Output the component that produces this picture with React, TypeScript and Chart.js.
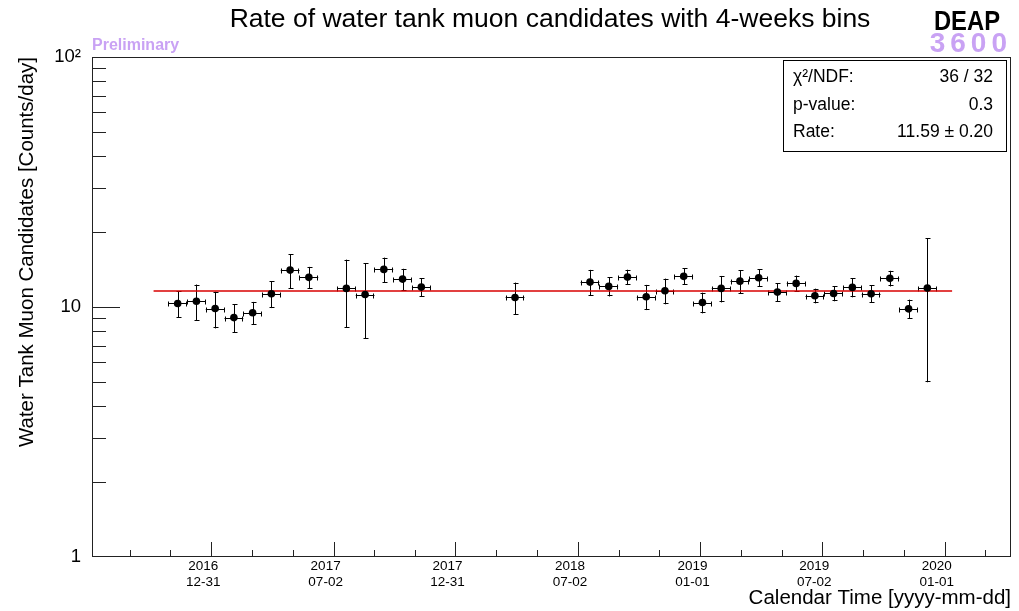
import React, { useEffect, useRef } from "react";
import { Chart, registerables } from "chart.js";

Chart.register(...registerables);

// ---------- data ----------
const REF_DATE = "2016-12-31";
const binCenters = [
  "2016-11-11", "2016-12-09", "2017-01-06", "2017-02-03", "2017-03-03", "2017-03-31", "2017-04-28", "2017-05-26",
  "2017-07-21", "2017-08-18", "2017-09-15", "2017-10-13", "2017-11-10",
  "2018-03-30",
  "2018-07-20", "2018-08-17", "2018-09-14", "2018-10-12", "2018-11-09", "2018-12-07", "2019-01-04", "2019-02-01",
  "2019-03-01", "2019-03-29", "2019-04-26", "2019-05-24", "2019-06-21", "2019-07-19", "2019-08-16", "2019-09-13",
  "2019-10-11", "2019-11-08", "2019-12-06",
];
const rates = [
  10.33, 10.55, 9.86, 9.07, 9.48, 11.3, 14.05, 13.14,
  11.87, 11.22, 14.14, 12.93, 12.01,
  10.92,
  12.58, 12.09, 13.17, 10.99, 11.62, 13.26, 10.42, 11.87,
  12.69, 13.1, 11.47, 12.43, 11.09, 11.33, 11.98, 11.3,
  13.02, 9.83, 11.9,
];
const rateErrors = [
  1.26, 1.75, 1.65, 1.17, 1.0, 1.4, 2.2, 1.33,
  3.6, 3.76, 1.62, 1.29, 1.0,
  1.6,
  1.5, 1.07, 0.93, 1.27, 1.37, 1.0, 0.99, 1.44,
  1.37, 1.05, 0.96, 0.93, 0.75, 0.79, 1.05, 0.9,
  0.94, 0.87, 6.9,
];
const binWidthDays = 28;
const fitRate = 11.59;
const fitRange = ["2016-10-06", "2020-01-12"];
const xRange = ["2016-07-06", "2020-04-09"];
const xTickDates = ["2016-12-31", "2017-07-02", "2017-12-31", "2018-07-02", "2019-01-01", "2019-07-02", "2020-01-01"];
const xTickLabels = [
  ["2016", "12-31"], ["2017", "07-02"], ["2017", "12-31"], ["2018", "07-02"],
  ["2019", "01-01"], ["2019", "07-02"], ["2020", "01-01"],
];
const yTickValues = [1, 10, 100];
const yTickLabels = ["1", "10", "10²"];
const yMinorValues = [2, 3, 4, 5, 6, 7, 8, 9, 20, 30, 40, 50, 60, 70, 80, 90];
const statsRows = [
  ["χ²/NDF:", "36 / 32"],
  ["p-value:", "0.3"],
  ["Rate:", "11.59 ± 0.20"],
];
const titleText = "Rate of water tank muon candidates with 4-weeks bins";
const xTitle = "Calendar Time [yyyy-mm-dd]";
const yTitle = "Water Tank Muon Candidates [Counts/day]";
const logoTop = "DEAP";
const logoBottom = "3600";
const prelimText = "Preliminary";

// ---------- helpers ----------
const MS_DAY = 86400000;
const dayOf = (s: string) => (Date.parse(s + "T00:00:00Z") - Date.parse(REF_DATE + "T00:00:00Z")) / MS_DAY;

const SANS = '"Liberation Sans", Arial, Helvetica, sans-serif';
const LAVENDER = "#c9a2f4";

const W = 1019;
const H = 611;

function condensedText(ctx: any, text: string, x: number, y: number, sx: number, align: string) {
  ctx.save();
  ctx.translate(x, y);
  ctx.scale(sx, 1);
  ctx.textAlign = align;
  ctx.fillText(text, 0, 0);
  ctx.restore();
}

const decorPlugin = {
  id: "rootDecor",
  beforeDatasetsDraw(chart: any) {
    const { ctx, scales } = chart;
    const xs = scales.x;
    const ys = scales.y;
    ctx.save();
    ctx.strokeStyle = "#000";
    ctx.lineWidth = 1;
    const cap = 2;
    binCenters.forEach((d, i) => {
      const dx = dayOf(d);
      const px = Math.round(xs.getPixelForValue(dx)) + 0.5;
      const py = Math.round(ys.getPixelForValue(rates[i])) + 0.5;
      const yt = ys.getPixelForValue(rates[i] + rateErrors[i]);
      const yb = ys.getPixelForValue(rates[i] - rateErrors[i]);
      const xl = xs.getPixelForValue(dx - binWidthDays / 2);
      const xr = xs.getPixelForValue(dx + binWidthDays / 2);
      ctx.beginPath();
      ctx.moveTo(px, yt);
      ctx.lineTo(px, yb);
      ctx.moveTo(px - cap, Math.round(yt) + 0.5);
      ctx.lineTo(px + cap + 1, Math.round(yt) + 0.5);
      ctx.moveTo(px - cap, Math.round(yb) - 0.5);
      ctx.lineTo(px + cap + 1, Math.round(yb) - 0.5);
      ctx.moveTo(xl, py);
      ctx.lineTo(xr, py);
      ctx.moveTo(Math.round(xl) + 0.5, py - cap);
      ctx.lineTo(Math.round(xl) + 0.5, py + cap + 1);
      ctx.moveTo(Math.round(xr) - 0.5, py - cap);
      ctx.lineTo(Math.round(xr) - 0.5, py + cap + 1);
      ctx.stroke();
    });
    ctx.restore();
  },
  afterDraw(chart: any) {
    const { ctx, chartArea, scales } = chart;
    const xs = scales.x;
    const ys = scales.y;
    const { left, right, top, bottom } = chartArea;
    ctx.save();
    // frame
    ctx.strokeStyle = "#222";
    ctx.lineWidth = 1;
    ctx.strokeRect(left + 0.5, top + 0.5, right - left - 1, bottom - top - 1);

    // x ticks (inward)
    const xMaj = xTickDates.map(dayOf);
    const step = (xMaj[xMaj.length - 1] - xMaj[0]) / (xMaj.length - 1);
    const xMin = dayOf(xRange[0]);
    const xMax = dayOf(xRange[1]);
    ctx.beginPath();
    xMaj.forEach((v) => {
      const p = Math.round(xs.getPixelForValue(v)) + 0.5;
      ctx.moveTo(p, bottom);
      ctx.lineTo(p, bottom - 15);
    });
    for (let k = -3; k <= xMaj.length * 3; k++) {
      if (k % 3 === 0) continue;
      const v = xMaj[0] + (k * step) / 3;
      if (v <= xMin || v >= xMax) continue;
      const p = Math.round(xs.getPixelForValue(v)) + 0.5;
      ctx.moveTo(p, bottom);
      ctx.lineTo(p, bottom - 7);
    }
    // y ticks (inward), skipping those lying on the frame
    yTickValues.forEach((v) => {
      const p = Math.round(ys.getPixelForValue(v)) + 0.5;
      if (p < top + 2 || p > bottom - 2) return;
      ctx.moveTo(left, p);
      ctx.lineTo(left + 28, p);
    });
    yMinorValues.forEach((v) => {
      const p = Math.round(ys.getPixelForValue(v)) + 0.5;
      if (p < top + 2 || p > bottom - 2) return;
      ctx.moveTo(left, p);
      ctx.lineTo(left + 14, p);
    });
    ctx.stroke();

    // title
    ctx.fillStyle = "#000";
    ctx.textBaseline = "alphabetic";
    ctx.textAlign = "center";
    ctx.font = `26.5px ${SANS}`;
    ctx.fillText(titleText, 550, 27);

    // logo
    ctx.font = `bold 28px ${SANS}`;
    condensedText(ctx, logoTop, 1000, 30, 0.85, "right");
    ctx.fillStyle = LAVENDER;
    ctx.font = `bold 28px ${SANS}`;
    (ctx as any).letterSpacing = "5px";
    ctx.textAlign = "right";
    ctx.fillText(logoBottom, 1012, 52);
    (ctx as any).letterSpacing = "0px";

    // preliminary
    ctx.textAlign = "left";
    ctx.font = `bold 16px ${SANS}`;
    ctx.fillText(prelimText, 92, 50);

    // stats box
    ctx.fillStyle = "#fff";
    ctx.fillRect(783, 60, 223, 91);
    ctx.strokeStyle = "#000";
    ctx.strokeRect(783.5, 60.5, 223, 91);
    ctx.fillStyle = "#000";
    ctx.font = `17.5px ${SANS}`;
    const rowBase = [82, 110, 137];
    statsRows.forEach((r, i) => {
      ctx.textAlign = "left";
      ctx.fillText(r[0], 793, rowBase[i]);
      ctx.textAlign = "right";
      ctx.fillText(r[1], 993, rowBase[i]);
    });
    ctx.restore();
  },
};

export default function App() {
  const canvasRef = useRef<HTMLCanvasElement | null>(null);

  useEffect(() => {
    if (!canvasRef.current) return;
    const points = binCenters.map((d, i) => ({ x: dayOf(d), y: rates[i] }));
    const fitPoints = fitRange.map((d) => ({ x: dayOf(d), y: fitRate }));
    const xTickDays = xTickDates.map(dayOf);

    const chart = new Chart(canvasRef.current, {
      type: "scatter",
      data: {
        datasets: [
          {
            label: "Rate",
            data: points,
            pointRadius: 3.8,
            pointBackgroundColor: "#000",
            pointBorderWidth: 0,
            showLine: false,
            order: 0,
          },
          {
            label: "Fit",
            type: "line",
            data: fitPoints,
            borderColor: "#d80000",
            borderWidth: 1.6,
            pointRadius: 0,
            showLine: true,
            fill: false,
            order: 1,
          } as any,
        ],
      },
      options: {
        responsive: false,
        animation: false,
        events: [],
        layout: { padding: { left: 0, right: 8, top: 57, bottom: 0 } },
        plugins: {
          legend: { display: false },
          tooltip: { enabled: false },
          title: { display: false },
        },
        scales: {
          x: {
            type: "linear",
            min: dayOf(xRange[0]),
            max: dayOf(xRange[1]),
            grid: { display: false, drawTicks: false },
            border: { display: false },
            afterBuildTicks: (s: any) => {
              s.ticks = xTickDays.map((v) => ({ value: v }));
            },
            afterFit: (s: any) => {
              s.height = H - 557;
            },
            ticks: {
              autoSkip: false,
              maxRotation: 0,
              minRotation: 0,
              padding: 2,
              labelOffset: -8,
              color: "#000",
              font: { family: SANS, size: 13.5, lineHeight: 1.15 },
              callback: (_v: any, i: number) => xTickLabels[i],
            },
            title: {
              display: true,
              text: xTitle,
              align: "end",
              color: "#000",
              font: { family: SANS, size: 20.5, lineHeight: 1 },
              padding: { top: 0, bottom: 2 },
            },
          },
          y: {
            type: "logarithmic",
            min: 1,
            max: 100,
            grid: { display: false, drawTicks: false },
            border: { display: false },
            afterBuildTicks: (s: any) => {
              s.ticks = yTickValues.map((v) => ({ value: v }));
            },
            afterFit: (s: any) => {
              s.width = 92;
            },
            ticks: {
              autoSkip: false,
              padding: 11,
              color: "#000",
              font: { family: SANS, size: 18.5 },
              callback: (v: any) => {
                const idx = yTickValues.indexOf(Number(v));
                return idx >= 0 ? yTickLabels[idx] : "";
              },
            },
            title: {
              display: true,
              text: yTitle,
              align: "end",
              color: "#000",
              font: { family: SANS, size: 20.5, lineHeight: 1.2 },
              padding: { top: 15, bottom: 0 },
            },
          },
        },
      },
      plugins: [decorPlugin],
    } as any);

    return () => chart.destroy();
  }, []);

  return (
    <div style={{ position: "fixed", left: 0, top: 0, width: W, height: H, background: "#fff" }}>
      <canvas ref={canvasRef} width={W} height={H} style={{ display: "block", width: W, height: H }} />
    </div>
  );
}
